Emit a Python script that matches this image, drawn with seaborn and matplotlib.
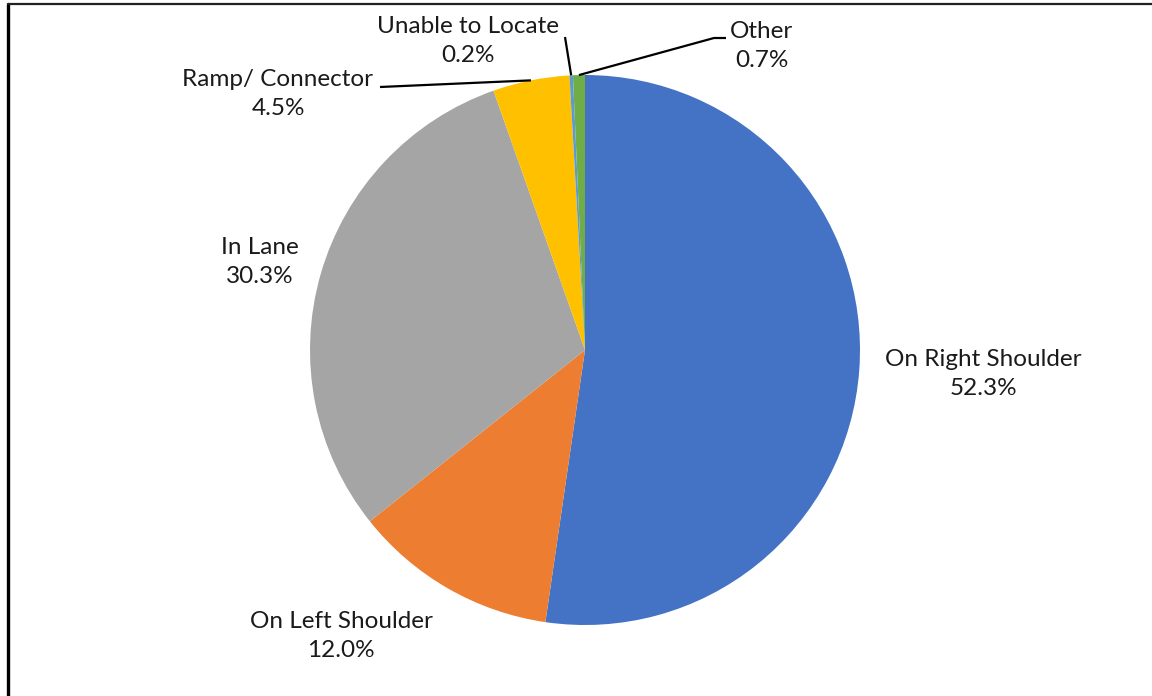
import matplotlib
matplotlib.use("Agg")
import matplotlib.pyplot as plt
from matplotlib.lines import Line2D
import numpy as np
import seaborn as sns

# Incident location shares (%), clockwise from 12 o'clock
categories = ["On Right Shoulder", "On Left Shoulder", "In Lane",
              "Ramp/ Connector", "Unable to Locate", "Other"]
shares = [52.3, 12.0, 30.3, 4.5, 0.2, 0.7]
colors = ["#4472C4", "#ED7D31", "#A5A5A5", "#FFC000", "#5B9BD5", "#70AD47"]

sns.set_theme(style="white")
plt.rcParams["font.family"] = ["Lato", "DejaVu Sans"]

W, H, DPI = 1152, 696, 100
fig = plt.figure(figsize=(W / DPI, H / DPI), dpi=DPI)
ax = fig.add_axes([0, 0, 1, 1])

# pie geometry in pixels -> data units (radius = 1)
cx, cy, R = 585, 350, 275

wedges, _ = ax.pie(shares, colors=sns.color_palette(colors), startangle=90,
                   counterclock=False, radius=1, center=(0, 0),
                   wedgeprops=dict(linewidth=0))
ax.set_xlim(-cx / R, (W - cx) / R)
ax.set_ylim(-(H - cy) / R, cy / R)
ax.axis("off")


def px(x, y):
    return (x - cx) / R, (cy - y) / R


# label centres (pixel layout) and leader-line elbows
label_pos = {
    "On Right Shoulder": (983, 374),
    "On Left Shoulder": (341, 636),
    "In Lane": (260, 262),
    "Ramp/ Connector": (278, 94),
    "Unable to Locate": (468, 41),
    "Other": (762, 46),
}
leader_from = {
    "Ramp/ Connector": [(380, 87)],
    "Unable to Locate": [(565, 37)],
    "Other": [(726, 38), (714, 38)],
}

text_color = "#1a1a1a"
cum = np.cumsum([0] + shares[:-1])
for name, val, start in zip(categories, shares, cum):
    lx, ly = px(*label_pos[name])
    ax.text(lx, ly, f"{name}\n{val:.1f}%", ha="center", va="center",
            fontsize=17.5, color=text_color, linespacing=1.5)
    if name in leader_from:
        mid = np.deg2rad((start + val / 2) / 100 * 360)
        ex, ey = np.sin(mid), np.cos(mid)
        pts = [px(*p) for p in leader_from[name]] + [(ex, ey)]
        xs, ys = zip(*pts)
        ax.plot(xs, ys, color="black", lw=1.6, solid_capstyle="butt")

# chart frame (only left and top edges fall inside the canvas)
fig.add_artist(Line2D([8 / W, 8 / W], [-0.1, 1 - 4 / H], color="black",
                      lw=2.4, transform=fig.transFigure))
fig.add_artist(Line2D([8 / W, 1.1], [1 - 4 / H, 1 - 4 / H], color="#222222",
                      lw=1.6, transform=fig.transFigure))

fig.savefig("out.png", dpi=DPI, facecolor="white")
